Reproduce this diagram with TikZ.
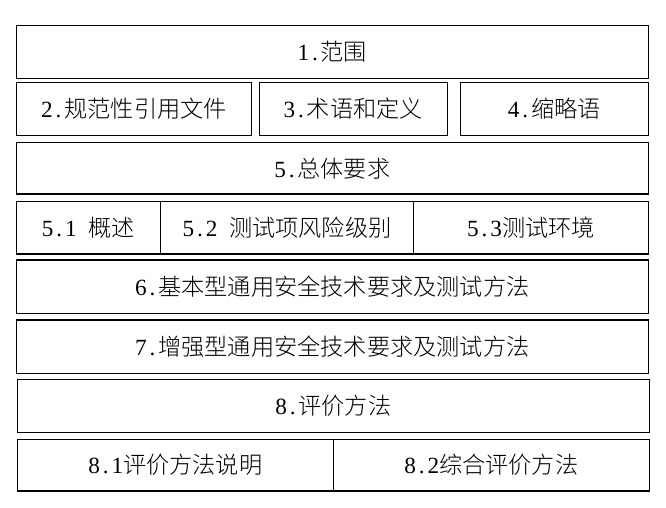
\documentclass[tikz,border=0pt]{standalone}
\usepackage{fontspec}
\setmainfont{Noto Sans CJK SC Light}
\newfontfamily\lat{Liberation Serif}
\tikzset{
  box/.style={draw, line width=0.8pt, inner sep=0pt, anchor=center,
    font=\fontsize{17.4pt}{20pt}\selectfont},
}
\newcommand\hw[1]{\makebox[0.5em][c]{\lat #1}}
\begin{document}
\begin{tikzpicture}[x=0.75pt,y=-0.75pt]
\useasboundingbox[fill=white] (0,0) rectangle (666,507);
\node[box, minimum width=474pt, minimum height=40pt] (n1) at (332.3,51.7) {\hw{1}\hw{.}范围};
\node[box, minimum width=176.55pt, minimum height=39.75pt] (n2) at (134,108.8) {\hw{2}\hw{.}规范性引用文件};
\node[box, minimum width=141pt, minimum height=39.75pt] (n3) at (353.3,108.8) {\hw{3}\hw{.}术语和定义};
\node[box, minimum width=141pt, minimum height=39.75pt] (n4) at (554.3,108.8) {\hw{4}\hw{.}缩略语};
\node[box, minimum width=474pt, minimum height=38.5pt] (n5) at (332.3,168.35) {\hw{5}\hw{.}总体要求};
\node[box, minimum width=108pt, minimum height=39.5pt] (n51) at (88.3,227.65) {\hw{5}\hw{.}\hw{1}\hspace{0.5em}概述};
\node[box, minimum width=190.05pt, minimum height=39.5pt] (n52) at (287,227.65) {\hw{5}\hw{.}\hw{2}\hspace{0.5em}测试项风险级别};
\node[box, minimum width=175.95pt, minimum height=39.5pt] (n53) at (531,227.65) {\hw{5}\hw{.}\hw{3}测试环境};
\node[box, minimum width=474pt, minimum height=40pt] (n6) at (332.3,286.65) {\hw{6}\hw{.}基本型通用安全技术要求及测试方法};
\node[box, minimum width=474pt, minimum height=40pt] (n7) at (332.3,346.65) {\hw{7}\hw{.}增强型通用安全技术要求及测试方法};
\node[box, minimum width=474pt, minimum height=39.75pt] (n8) at (333.3,405.8) {\hw{8}\hw{.}评价方法};
\node[box, minimum width=237pt, minimum height=38.8pt] (n81) at (175.3,465.15) {\hw{8}\hw{.}\hw{1}评价方法说明};
\node[box, minimum width=237pt, minimum height=38.8pt] (n82) at (491.3,465.15) {\hw{8}\hw{.}\hw{2}综合评价方法};
\end{tikzpicture}
\end{document}
